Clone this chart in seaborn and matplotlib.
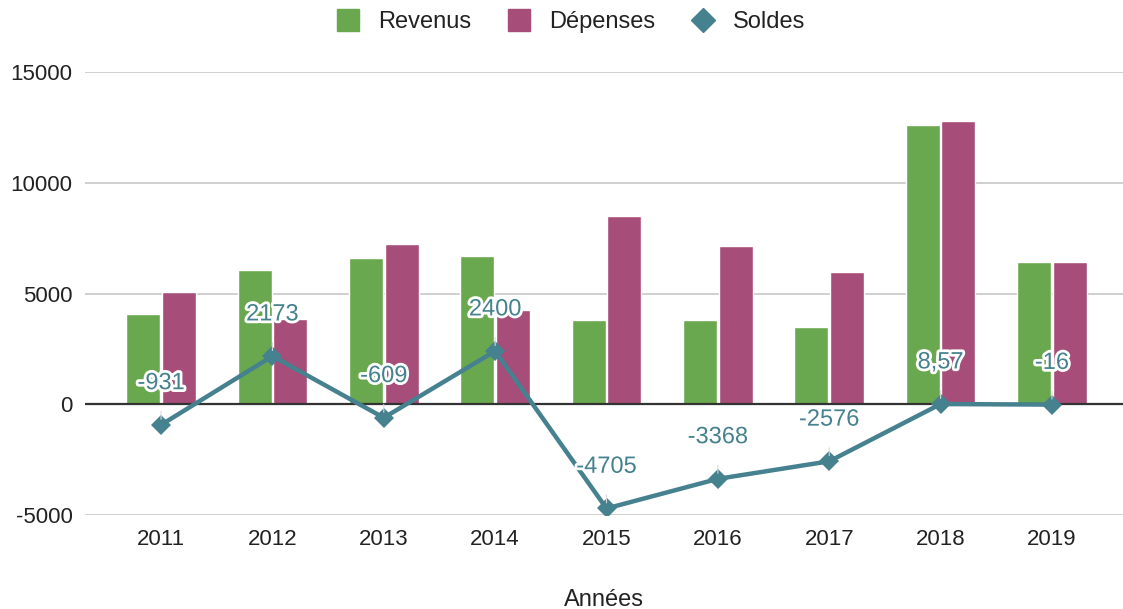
import numpy as np
import pandas as pd
import matplotlib
matplotlib.use("Agg")
import matplotlib.pyplot as plt
import matplotlib.patheffects as pe
from matplotlib.lines import Line2D
import seaborn as sns

annees = ["2011", "2012", "2013", "2014", "2015", "2016", "2017", "2018", "2019"]
revenus = [4060, 6050, 6590, 6680, 3790, 3790, 3480, 12600, 6410]
depenses = [5060, 3840, 7230, 4245, 8490, 7140, 5960, 12780, 6410]
soldes = [-931, 2173, -609, 2400, -4705, -3368, -2576, 8.57, -16]
soldes_labels = ["-931", "2173", "-609", "2400", "-4705", "-3368", "-2576", "8,57", "-16"]
yticks = [-5000, 0, 5000, 10000, 15000]

c_rev = "#6aa84f"
c_dep = "#a64d79"
c_sol = "#45818e"

sns.set_theme(style="white")
plt.rcParams["font.family"] = ["Liberation Sans", "DejaVu Sans"]

df = pd.DataFrame({
    "Année": annees * 2,
    "Valeur": revenus + depenses,
    "Série": ["Revenus"] * len(annees) + ["Dépenses"] * len(annees),
})

fig = plt.figure(figsize=(11.23, 6.09), dpi=100)
ax = fig.add_axes([85 / 1123, 1 - 515 / 609, 1 - 85 / 1123, (515 - 72) / 609])

sns.barplot(data=df, x="Année", y="Valeur", hue="Série",
            palette={"Revenus": c_rev, "Dépenses": c_dep},
            width=0.64, gap=0.05, saturation=1, ax=ax, legend=False, zorder=2)

xs = np.arange(len(annees))
sns.lineplot(x=xs, y=soldes, color=c_sol, linewidth=3.2, marker="D",
             markersize=10, markeredgewidth=0, ax=ax, zorder=4)

for x, y, lab in zip(xs, soldes, soldes_labels):
    ax.annotate(lab, xy=(x, y), xytext=(0, 30), textcoords="offset points",
                ha="center", va="center", fontsize=17, color=c_sol, zorder=5,
                path_effects=[pe.withStroke(linewidth=4, foreground="white")],
                arrowprops=dict(arrowstyle="-", color="#d9d9d9", lw=0.8,
                                shrinkA=10, shrinkB=4))

ax.set_xlim(-0.683, 8.638)
ax.set_ylim(-5000, 15000)
ax.set_yticks(yticks)
ax.set_yticklabels([str(v) for v in yticks])
ax.grid(axis="y", color="#cccccc", linewidth=1.3, zorder=0)
ax.grid(axis="x", visible=False)
ax.set_axisbelow(True)
ax.axhline(0, color="#333333", linewidth=1.6, zorder=3)
for s in ax.spines.values():
    s.set_visible(False)
ax.tick_params(axis="both", length=0, labelsize=16, colors="#222222")
ax.tick_params(axis="x", pad=10)
ax.tick_params(axis="y", pad=9)
ax.set_ylabel("")
ax.set_xlabel("Années", fontsize=17, color="#222222", labelpad=28)

handles = [
    Line2D([], [], marker="s", linestyle="none", markersize=16, color=c_rev),
    Line2D([], [], marker="s", linestyle="none", markersize=16, color=c_dep),
    Line2D([], [], marker="D", linestyle="none", markersize=12, color=c_sol),
]
fig.legend(handles, ["Revenus", "Dépenses", "Soldes"], loc="center",
           bbox_to_anchor=(0.503, 1 - 22 / 609), ncol=3, frameon=False,
           fontsize=17, handletextpad=0.3, columnspacing=1.0,
           labelcolor="#222222")

fig.savefig("out.png", dpi=100)
